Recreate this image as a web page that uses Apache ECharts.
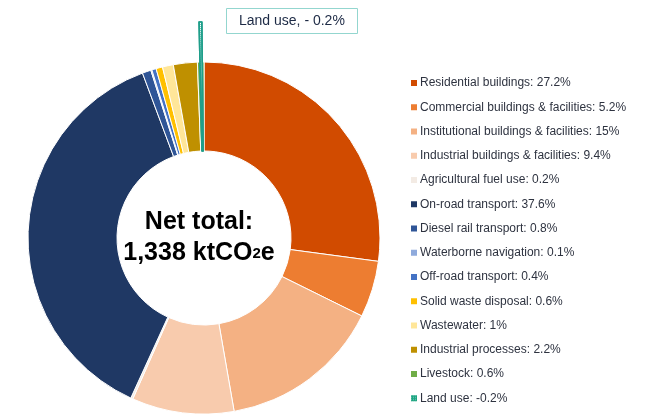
<!DOCTYPE html>
<html>
<head>
<meta charset="utf-8">
<script src="https://cdn.jsdelivr.net/npm/echarts@6/dist/echarts.min.js"></script>
<style>
html,body{margin:0;padding:0;background:#fff;}
#chart{width:657px;height:414px;}
</style>
</head>
<body>
<div id="chart"></div>
<script>
const categories = [
  'Residential buildings',
  'Commercial buildings & facilities',
  'Institutional buildings & facilities',
  'Industrial buildings & facilities',
  'Agricultural fuel use',
  'On-road transport',
  'Diesel rail transport',
  'Waterborne navigation',
  'Off-road transport',
  'Solid waste disposal',
  'Wastewater',
  'Industrial processes',
  'Livestock',
  'Land use'
];
const values = [27.2, 5.2, 15, 9.4, 0.2, 37.6, 0.8, 0.1, 0.4, 0.6, 1, 2.2, 0.6, -0.2];
const colors = ['#d14b00', '#ed7d31', '#f4b183', '#f8cbad', '#f3ebe4', '#1f3864', '#2f5597',
  '#8faadc', '#4472c4', '#ffc000', '#ffe699', '#bf9000', '#70ad47', '#1ea47f'];
const netTotalText = '1,338 ktCO';
const landUseCallout = 'Land use, - 0.2%';

const chart = echarts.init(document.getElementById('chart'), null, {renderer: 'canvas'});

const positive = [];
const negative = [];
categories.forEach((c, i) => {
  if (values[i] >= 0) positive.push({name: c, value: values[i], itemStyle: {color: colors[i]}});
  else negative.push({name: c, value: Math.abs(values[i]), itemStyle: {color: colors[i]}});
});
const negSum = negative.reduce((s, d) => s + d.value, 0);

const labelMap = {};
categories.forEach((c, i) => { labelMap[c] = c + ': ' + values[i] + '%'; });

const option = {
  animation: false,
  backgroundColor: '#ffffff',
  title: [{
    text: landUseCallout,
    left: 226, top: 8,
    padding: [6, 13, 6, 13],
    borderColor: '#93d6cf', borderWidth: 1,
    textStyle: {fontFamily: 'Liberation Sans', fontSize: 14, fontWeight: 'normal', color: '#1d2a45'}
  }],
  legend: {
    orient: 'vertical',
    left: 406, top: 71,
    itemWidth: 6, itemHeight: 6, itemGap: 10.25,
    icon: 'rect',
    itemStyle: {borderWidth: 0},
    data: categories.map((c, i) => ({name: c, itemStyle: {color: colors[i], borderWidth: 0}})),
    formatter: name => labelMap[name],
    textStyle: {fontFamily: 'Liberation Sans', fontSize: 12, color: '#2e3340', lineHeight: 14, padding: [0, 0, 0, -2]},
    selectedMode: false
  },
  graphic: [{
    type: 'text',
    x: 199, y: 238,
    z: 100,
    style: {
      text: '{a|Net total:}\n{a|' + netTotalText + '}{s|2}{a|e}',
      align: 'center', verticalAlign: 'middle',
      rich: {
        a: {fontFamily: 'Liberation Sans', fontSize: 25, fontWeight: 'bold', color: '#14213f', lineHeight: 31},
        s: {fontFamily: 'Liberation Sans', fontSize: 15, fontWeight: 'bold', color: '#14213f', verticalAlign: 'bottom', padding: [0, 0, 8, 0]}
      }
    }
  }],
  series: [{
    type: 'pie',
    center: [204, 238],
    radius: [87, 176],
    startAngle: 90,
    clockwise: true,
    avoidLabelOverlap: false,
    label: {show: false},
    labelLine: {show: false},
    emphasis: {disabled: true},
    itemStyle: {borderColor: '#ffffff', borderWidth: 1},
    data: positive
  }, {
    type: 'pie',
    center: [204, 238],
    radius: [87, 216],
    startAngle: 91.3,
    clockwise: true,
    silent: true,
    label: {show: false},
    labelLine: {show: false},
    emphasis: {disabled: true},
    z: 5,
    data: negative.map(d => ({
      name: d.name, value: d.value,
      itemStyle: {
        color: '#ffffff', borderColor: '#1f9e8a', borderWidth: 1.6, borderJoin: 'round',
        decal: {symbol: 'rect', symbolSize: 1, dashArrayX: [1, 1], dashArrayY: [1, 1], color: '#6cc8bb', rotation: 0}
      }
    })).concat([{name: '__rest', value: 100 - negSum, itemStyle: {color: 'rgba(0,0,0,0)', borderWidth: 0}}])
  }]
};
chart.setOption(option);
</script>
</body>
</html>
